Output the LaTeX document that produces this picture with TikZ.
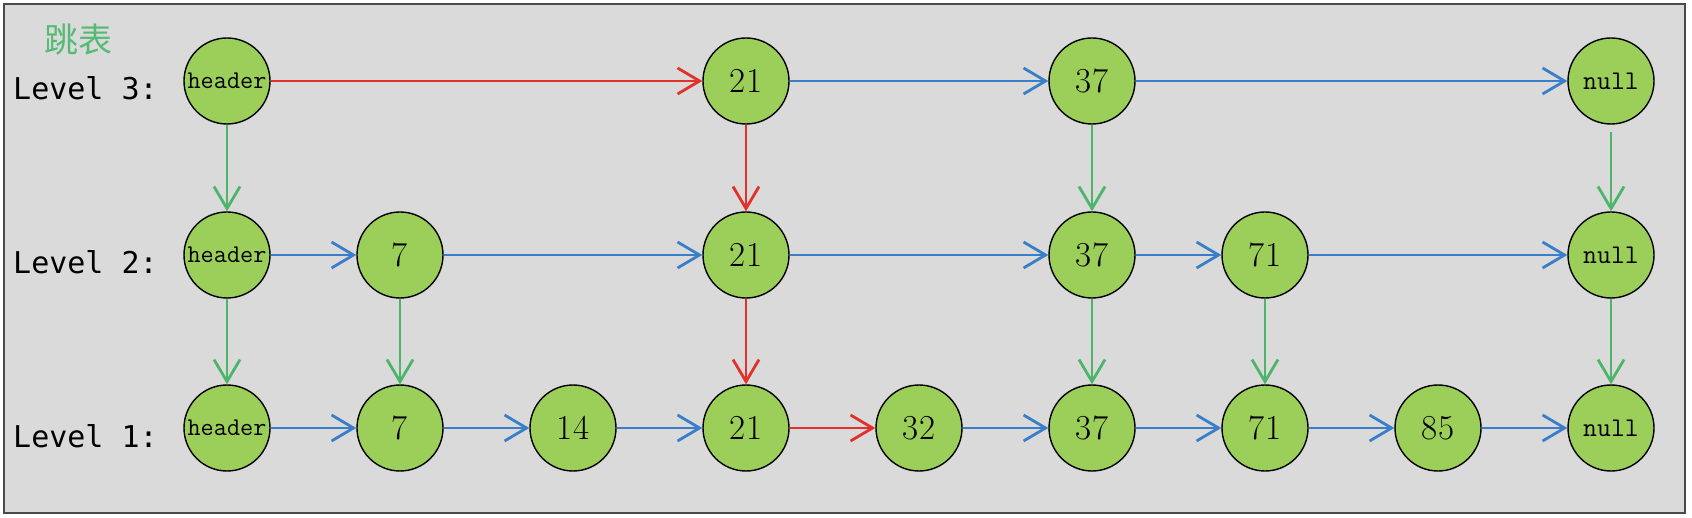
\documentclass[tikz,border=0pt]{standalone}
\usepackage{fontspec}
\newfontfamily\cjkfont{Noto Sans CJK SC}
\newfontfamily\lvlfont{DejaVu Sans Mono}
\usetikzlibrary{arrows.meta}
\definecolor{bgc}{HTML}{DADADA}
\definecolor{framec}{HTML}{4A4A4A}
\definecolor{nodefill}{HTML}{9CCF5A}
\definecolor{bluec}{HTML}{3A7DC9}
\definecolor{redc}{HTML}{E2302B}
\definecolor{greenc}{HTML}{4DB56A}
\definecolor{titlec}{HTML}{55BB74}
\tikzset{
  sk/.style={circle, draw=black, line width=1.4pt, fill=nodefill, minimum size=86pt, inner sep=0pt, font=\fontsize{35}{40}\selectfont},
  hd/.style={sk, font=\ttfamily\fontsize{25.5}{28}\selectfont},
  nl/.style={sk, font=\ttfamily\fontsize{27}{30}\selectfont},
  lvl/.style={anchor=base west, inner sep=0pt, font=\lvlfont\fontsize{30}{32}\selectfont},
  conn/.style={line width=2.8pt, -{Straight Barb[length=22pt,width=26pt,line width=2.8pt]}},
  hb/.style={conn, draw=bluec},
  hr/.style={conn, draw=redc},
  vg/.style={conn, draw=greenc},
}
\begin{document}
\begin{tikzpicture}[x=1pt,y=-1pt]
\useasboundingbox (0,0) rectangle (1692,518);
\draw[fill=bgc, draw=framec, line width=2.5pt] (4,4) rectangle (1685,513);
\node[inner sep=0pt, text=titlec, font=\cjkfont\fontsize{34}{36}\selectfont] (title) at (78,40) {跳表};
\node[lvl] (l3) at (13,100) {Level 3:};
\node[lvl] (l2) at (13,274) {Level 2:};
\node[lvl] (l1) at (13,447) {Level 1:};
% level 3
\node[hd] (h3) at (227,81) {header};
\node[sk] (a21) at (746,81) {21};
\node[sk] (a37) at (1092,81) {37};
\node[nl] (n3) at (1611,81) {null};
% level 2
\node[hd] (h2) at (227,255) {header};
\node[sk] (b7) at (400,255) {7};
\node[sk] (b21) at (746,255) {21};
\node[sk] (b37) at (1092,255) {37};
\node[sk] (b71) at (1265,255) {71};
\node[nl] (n2) at (1611,255) {null};
% level 1
\node[hd] (h1) at (227,428) {header};
\node[sk] (c7) at (400,428) {7};
\node[sk] (c14) at (573,428) {14};
\node[sk] (c21) at (746,428) {21};
\node[sk] (c32) at (919,428) {32};
\node[sk] (c37) at (1092,428) {37};
\node[sk] (c71) at (1265,428) {71};
\node[sk] (c85) at (1438,428) {85};
\node[nl] (n1) at (1611,428) {null};
% horizontal level 3
\draw[hr] (h3) -- (a21);
\draw[hb] (a21) -- (a37);
\draw[hb] (a37) -- (n3);
% horizontal level 2
\draw[hb] (h2) -- (b7);
\draw[hb] (b7) -- (b21);
\draw[hb] (b21) -- (b37);
\draw[hb] (b37) -- (b71);
\draw[hb] (b71) -- (n2);
% horizontal level 1
\draw[hb] (h1) -- (c7);
\draw[hb] (c7) -- (c14);
\draw[hb] (c14) -- (c21);
\draw[hr] (c21) -- (c32);
\draw[hb] (c32) -- (c37);
\draw[hb] (c37) -- (c71);
\draw[hb] (c71) -- (c85);
\draw[hb] (c85) -- (n1);
% vertical 3 -> 2
\draw[vg] (h3) -- (h2);
\draw[hr] (a21) -- (b21);
\draw[vg] (a37) -- (b37);
\draw[vg, shorten <=7pt] (n3) -- (n2);
% vertical 2 -> 1
\draw[vg] (h2) -- (h1);
\draw[vg] (b7) -- (c7);
\draw[hr] (b21) -- (c21);
\draw[vg] (b37) -- (c37);
\draw[vg] (b71) -- (c71);
\draw[vg] (n2) -- (n1);
\end{tikzpicture}
\end{document}
